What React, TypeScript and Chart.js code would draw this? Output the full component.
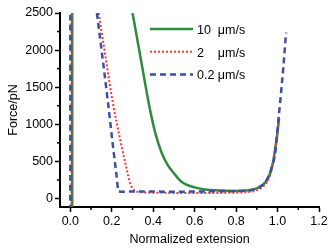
import React, { useEffect, useRef } from 'react';
import { Chart, registerables } from 'chart.js';

Chart.register(...registerables);

// ---- data ----
const seriesLabels = ['10  μm/s', '2    μm/s', '0.2 μm/s'];
const seriesColors = ['#2e8b3e', '#ff3434', '#3c4fa2'];

// 10 μm/s (green, solid)
const greenX = [0.009, 0.009, 0.1, 0.30, 0.34, 0.38, 0.41, 0.44, 0.47, 0.50, 0.53, 0.56, 0.60, 0.65, 0.70, 0.75, 0.80, 0.85, 0.88, 0.91, 0.93, 0.95, 0.97, 0.98, 0.99, 1.0, 1.007];
const greenY = [-300, 3000, null, 2500, 1880, 1260, 880, 620, 450, 340, 240, 185, 150, 122, 110, 105, 102, 107, 120, 150, 185, 255, 390, 520, 700, 900, 1080];

// 2 μm/s (red, dotted)
const redX = [0.005, 0.005, 0.1, 0.137, 0.17, 0.205, 0.24, 0.27, 0.29, 0.30, 0.31, 0.33, 0.40, 0.50, 0.60, 0.70, 0.80, 0.85, 0.88, 0.91, 0.93, 0.95, 0.97, 0.98, 0.99, 1.0, 1.006];
const redY = [-300, 3000, null, 2500, 1900, 1290, 800, 420, 190, 135, 105, 88, 78, 75, 75, 75, 78, 85, 95, 125, 160, 230, 370, 500, 680, 880, 1050];

// 0.2 μm/s (blue, dashed)
const blueX = [0.0, 0.0, 0.1, 0.128, 0.155, 0.18, 0.205, 0.222, 0.233, 0.26, 0.35, 0.45, 0.55, 0.65, 0.75, 0.85, 0.88, 0.91, 0.93, 0.95, 0.97, 0.99, 1.004, 1.015, 1.028, 1.041];
const blueY = [-300, 3000, null, 2500, 1900, 1330, 720, 330, 95, 92, 95, 92, 92, 95, 98, 105, 118, 150, 190, 260, 400, 640, 1058, 1371, 1774, 2237];

const xTicks = [0, 0.2, 0.4, 0.6, 0.8, 1.0, 1.2];
const xMinorTicks = [0.1, 0.3, 0.5, 0.7, 0.9, 1.1];
const yTicks = [0, 500, 1000, 1500, 2000, 2500];
const yMinorTicks = [250, 750, 1250, 1750, 2250];

const FONT_FAMILY = '"Liberation Sans", Arial, Helvetica, sans-serif';
const FONT_SIZE = 12.5;

const toPoints = (xs: number[], ys: (number | null)[]) => xs.map((x, i) => ({ x, y: ys[i] }));

const minorTicksPlugin = {
  id: 'minorTicks',
  afterDraw(chart: any) {
    const { ctx, chartArea, scales } = chart;
    ctx.save();
    ctx.strokeStyle = '#000';
    ctx.lineWidth = 1.5;
    xMinorTicks.forEach((v) => {
      const px = scales.x.getPixelForValue(v);
      ctx.beginPath();
      ctx.moveTo(px, chartArea.bottom);
      ctx.lineTo(px, chartArea.bottom + 3);
      ctx.stroke();
    });
    yMinorTicks.forEach((v) => {
      const py = scales.y.getPixelForValue(v);
      ctx.beginPath();
      ctx.moveTo(chartArea.left, py);
      ctx.lineTo(chartArea.left - 3, py);
      ctx.stroke();
    });
    ctx.restore();
  },
};

const inlineLegendPlugin = {
  id: 'inlineLegend',
  afterDatasetsDraw(chart: any) {
    const { ctx, chartArea } = chart;
    const x0 = chartArea.left + 90;
    const y0 = chartArea.top + 16;
    const rowH = 22.7;
    const lineW = 43;
    chart.data.datasets.forEach((ds: any, i: number) => {
      const y = y0 + i * rowH;
      ctx.save();
      ctx.strokeStyle = ds.borderColor;
      ctx.lineWidth = ds.borderWidth;
      ctx.setLineDash(ds.borderDash || []);
      ctx.beginPath();
      ctx.moveTo(x0, y);
      ctx.lineTo(x0 + lineW, y);
      ctx.stroke();
      ctx.setLineDash([]);
      ctx.fillStyle = '#000';
      ctx.font = `${FONT_SIZE}px ${FONT_FAMILY}`;
      ctx.textBaseline = 'middle';
      ctx.textAlign = 'left';
      ctx.fillText(ds.label, x0 + lineW + 4, y + 1.5);
      ctx.restore();
    });
  },
};

export default function App() {
  const canvasRef = useRef<HTMLCanvasElement | null>(null);

  useEffect(() => {
    if (!canvasRef.current) return;
    const font = { family: FONT_FAMILY, size: FONT_SIZE };
    const chart = new Chart(canvasRef.current, {
      type: 'line',
      data: {
        datasets: [
          {
            label: seriesLabels[0],
            data: toPoints(greenX, greenY),
            borderColor: seriesColors[0],
            borderWidth: 2.5,
            borderDash: [],
            order: 3,
          },
          {
            label: seriesLabels[1],
            data: toPoints(redX, redY),
            borderColor: seriesColors[1],
            borderWidth: 2,
            borderDash: [2, 2],
            order: 2,
          },
          {
            label: seriesLabels[2],
            data: toPoints(blueX, blueY),
            borderColor: seriesColors[2],
            borderWidth: 2.5,
            borderDash: [6, 4],
            order: 1,
          },
        ] as any,
      },
      options: {
        animation: false,
        responsive: false,
        devicePixelRatio: 1,
        parsing: false as any,
        spanGaps: false,
        layout: { padding: { left: 0, top: 13, right: 14, bottom: 0 } },
        elements: {
          point: { radius: 0, hoverRadius: 0 },
          line: { tension: 0, cubicInterpolationMode: 'monotone', fill: false },
        },
        plugins: {
          legend: { display: false },
          tooltip: { enabled: false },
        },
        scales: {
          x: {
            type: 'linear',
            min: -0.05,
            max: 1.2,
            afterBuildTicks: (s: any) => {
              s.ticks = xTicks.map((v) => ({ value: v }));
            },
            afterFit: (s: any) => {
              s.height = 42;
            },
            ticks: {
              callback: (v: any) => Number(v).toFixed(1),
              font,
              color: '#000',
              padding: 2,
              maxRotation: 0,
              autoSkip: false,
            },
            grid: {
              drawOnChartArea: false,
              drawTicks: true,
              tickLength: 5,
              tickWidth: 1.5,
              tickColor: '#000',
            },
            border: { display: true, color: '#000', width: 2 },
            title: {
              display: true,
              text: 'Normalized extension',
              font,
              color: '#000',
              padding: { top: 0, bottom: 1.5 },
            },
          },
          y: {
            type: 'linear',
            min: -115,
            max: 2500,
            afterBuildTicks: (s: any) => {
              s.ticks = yTicks.map((v) => ({ value: v }));
            },
            afterFit: (s: any) => {
              s.width = 60;
            },
            ticks: {
              callback: (v: any) => String(v),
              font,
              color: '#000',
              padding: 2,
              autoSkip: false,
            },
            grid: {
              drawOnChartArea: false,
              drawTicks: true,
              tickLength: 5,
              tickWidth: 1.5,
              tickColor: '#000',
            },
            border: { display: true, color: '#000', width: 2 },
            title: {
              display: true,
              text: 'Force/pN',
              font,
              color: '#000',
              padding: { top: 6, bottom: 0 },
            },
          },
        },
      },
      plugins: [minorTicksPlugin, inlineLegendPlugin],
    });
    return () => chart.destroy();
  }, []);

  return (
    <div style={{ position: 'fixed', left: 0, top: 0, width: 333, height: 249, background: '#fff' }}>
      <canvas ref={canvasRef} width={333} height={249} style={{ display: 'block' }} />
    </div>
  );
}
